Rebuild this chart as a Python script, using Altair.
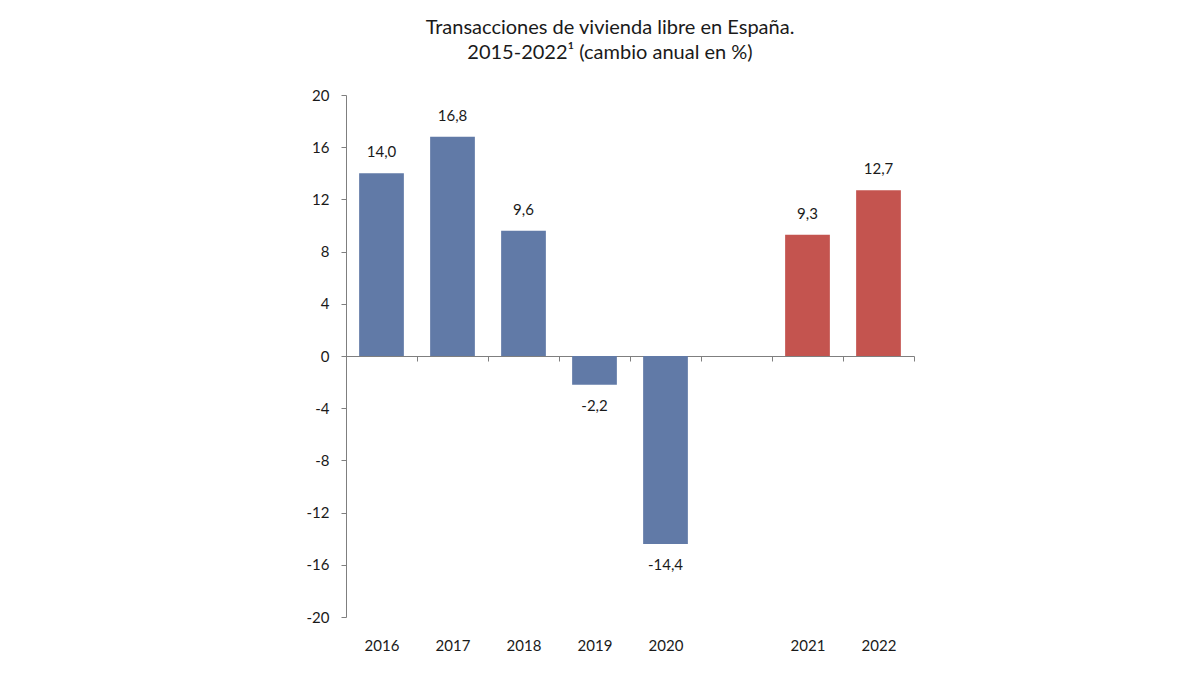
import altair as alt
import pandas as pd

slots = ["2016", "2017", "2018", "2019", "2020", " ", "2021", "2022"]
bar_years = ["2016", "2017", "2018", "2019", "2020", "2021", "2022"]
values = [14.0, 16.8, 9.6, -2.2, -14.4, 9.3, 12.7]
groups = ["hist", "hist", "hist", "hist", "hist", "new", "new"]
group_domain = ["hist", "new"]
group_colors = ["#617AA7", "#C4544F"]
y_ticks = [-20, -16, -12, -8, -4, 0, 4, 8, 12, 16, 20]
title_lines = ["Transacciones de vivienda libre en España.", "2015-2022¹ (cambio anual en %)"]

df = pd.DataFrame({"year": bar_years, "value": values, "group": groups})
df["label"] = [f"{v:.1f}".replace(".", ",") for v in values]

FONT = "Lato"
W, H = 568, 522

xscale = alt.Scale(domain=slots, paddingInner=0, paddingOuter=0)
yscale = alt.Scale(domain=[-20, 20], nice=False, zero=False)

base = alt.Chart(df)

bars = base.mark_bar(width=alt.RelativeBandSize(0.63)).encode(
    x=alt.X("year:N", scale=xscale, sort=slots,
            axis=alt.Axis(title=None, orient="bottom", offset=-261,
                          domain=True, domainColor="#7f7f7f", domainWidth=1,
                          ticks=True, tickBand="extent", tickColor="#7f7f7f",
                          tickSize=5, labelPadding=277, labelAngle=0,
                          labelFont=FONT, labelFontSize=15, labelColor="#1a1a1a",
                          grid=False)),
    y=alt.Y("value:Q", scale=yscale,
            axis=alt.Axis(title=None, values=y_ticks, domainColor="#7f7f7f",
                          tickColor="#7f7f7f", tickSize=5, labelPadding=12,
                          labelFont=FONT, labelFontSize=15, labelColor="#1a1a1a",
                          labelExpr="replace(datum.label, '\u2212', '-')",
                          grid=False)),
    color=alt.Color("group:N", scale=alt.Scale(domain=group_domain, range=group_colors),
                    legend=None),
)

pos_text = base.transform_filter("datum.value >= 0").mark_text(
    dy=-21, font=FONT, fontSize=15, color="#1a1a1a", baseline="middle"
).encode(x=alt.X("year:N", scale=xscale, sort=slots), y=alt.Y("value:Q", scale=yscale), text="label:N")

neg_text = base.transform_filter("datum.value < 0").mark_text(
    dy=21, font=FONT, fontSize=15, color="#1a1a1a", baseline="middle"
).encode(x=alt.X("year:N", scale=xscale, sort=slots), y=alt.Y("value:Q", scale=yscale), text="label:N")

chart = alt.layer(bars, pos_text, neg_text).properties(
    width=W, height=H,
    title=alt.TitleParams(title_lines, font=FONT, fontSize=20, fontWeight="normal",
                          color="#1a1a1a", anchor="middle", lineHeight=25, offset=25, dx=-20),
    autosize=alt.AutoSizeParams(type="none"),
    padding={"left": 346, "top": 95, "right": 286, "bottom": 59},
).configure(background="white").configure_view(stroke=None)

chart.save("out.html", embed_options={"renderer": "svg", "actions": False})
